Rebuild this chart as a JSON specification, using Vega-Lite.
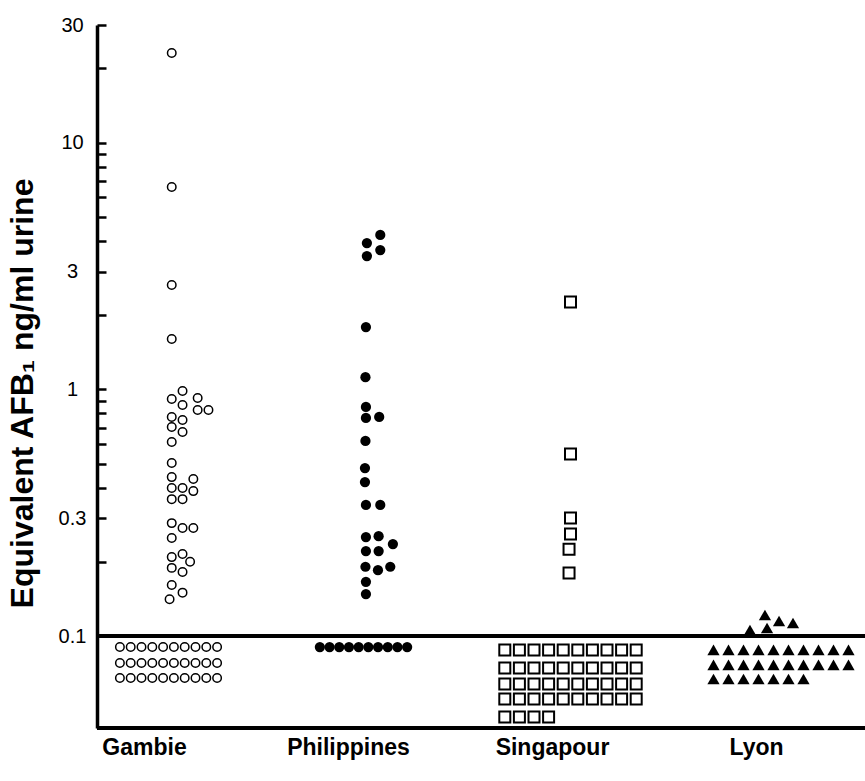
{
  "$schema": "https://vega.github.io/schema/vega-lite/v6.json",
  "width": 768,
  "height": 703,
  "autosize": {"type": "none"},
  "padding": {"left": 97, "top": 25, "right": 0, "bottom": 53},
  "background": "white",
  "config": {"view": {"stroke": null}, "font": "Liberation Sans"},
  "data": {"values": [
    {"group": "Gambie", "value": 23.1, "col": 0.3},
    {"group": "Gambie", "value": 6.61, "col": 0.3},
    {"group": "Gambie", "value": 2.65, "col": 0.3},
    {"group": "Gambie", "value": 1.6, "col": 0.3},
    {"group": "Gambie", "value": 0.985, "col": 1.3},
    {"group": "Gambie", "value": 0.914, "col": 0.3},
    {"group": "Gambie", "value": 0.923, "col": 2.7},
    {"group": "Gambie", "value": 0.864, "col": 1.3},
    {"group": "Gambie", "value": 0.825, "col": 2.7},
    {"group": "Gambie", "value": 0.825, "col": 3.7},
    {"group": "Gambie", "value": 0.773, "col": 0.3},
    {"group": "Gambie", "value": 0.751, "col": 1.3},
    {"group": "Gambie", "value": 0.704, "col": 0.3},
    {"group": "Gambie", "value": 0.672, "col": 1.3},
    {"group": "Gambie", "value": 0.612, "col": 0.3},
    {"group": "Gambie", "value": 0.503, "col": 0.3},
    {"group": "Gambie", "value": 0.441, "col": 0.3},
    {"group": "Gambie", "value": 0.433, "col": 2.3},
    {"group": "Gambie", "value": 0.398, "col": 0.3},
    {"group": "Gambie", "value": 0.398, "col": 1.3},
    {"group": "Gambie", "value": 0.387, "col": 2.3},
    {"group": "Gambie", "value": 0.359, "col": 0.3},
    {"group": "Gambie", "value": 0.359, "col": 1.3},
    {"group": "Gambie", "value": 0.287, "col": 0.3},
    {"group": "Gambie", "value": 0.274, "col": 1.3},
    {"group": "Gambie", "value": 0.274, "col": 2.3},
    {"group": "Gambie", "value": 0.25, "col": 0.3},
    {"group": "Gambie", "value": 0.209, "col": 0.3},
    {"group": "Gambie", "value": 0.215, "col": 1.3},
    {"group": "Gambie", "value": 0.2, "col": 2.0},
    {"group": "Gambie", "value": 0.189, "col": 0.3},
    {"group": "Gambie", "value": 0.182, "col": 1.3},
    {"group": "Gambie", "value": 0.161, "col": 0.3},
    {"group": "Gambie", "value": 0.15, "col": 1.3},
    {"group": "Gambie", "value": 0.141, "col": 0.1},
    {"group": "Gambie", "value": 0.0903, "col": -4.5},
    {"group": "Gambie", "value": 0.0903, "col": -3.5},
    {"group": "Gambie", "value": 0.0903, "col": -2.5},
    {"group": "Gambie", "value": 0.0903, "col": -1.5},
    {"group": "Gambie", "value": 0.0903, "col": -0.5},
    {"group": "Gambie", "value": 0.0903, "col": 0.5},
    {"group": "Gambie", "value": 0.0903, "col": 1.5},
    {"group": "Gambie", "value": 0.0903, "col": 2.5},
    {"group": "Gambie", "value": 0.0903, "col": 3.5},
    {"group": "Gambie", "value": 0.0903, "col": 4.5},
    {"group": "Gambie", "value": 0.0778, "col": -4.5},
    {"group": "Gambie", "value": 0.0778, "col": -3.5},
    {"group": "Gambie", "value": 0.0778, "col": -2.5},
    {"group": "Gambie", "value": 0.0778, "col": -1.5},
    {"group": "Gambie", "value": 0.0778, "col": -0.5},
    {"group": "Gambie", "value": 0.0778, "col": 0.5},
    {"group": "Gambie", "value": 0.0778, "col": 1.5},
    {"group": "Gambie", "value": 0.0778, "col": 2.5},
    {"group": "Gambie", "value": 0.0778, "col": 3.5},
    {"group": "Gambie", "value": 0.0778, "col": 4.5},
    {"group": "Gambie", "value": 0.0676, "col": -4.5},
    {"group": "Gambie", "value": 0.0676, "col": -3.5},
    {"group": "Gambie", "value": 0.0676, "col": -2.5},
    {"group": "Gambie", "value": 0.0676, "col": -1.5},
    {"group": "Gambie", "value": 0.0676, "col": -0.5},
    {"group": "Gambie", "value": 0.0676, "col": 0.5},
    {"group": "Gambie", "value": 0.0676, "col": 1.5},
    {"group": "Gambie", "value": 0.0676, "col": 2.5},
    {"group": "Gambie", "value": 0.0676, "col": 3.5},
    {"group": "Gambie", "value": 0.0676, "col": 4.5},
    {"group": "Philippines", "value": 4.23, "col": 1.73},
    {"group": "Philippines", "value": 3.92, "col": 0.35},
    {"group": "Philippines", "value": 3.67, "col": 1.73},
    {"group": "Philippines", "value": 3.47, "col": 0.35},
    {"group": "Philippines", "value": 1.79, "col": 0.25},
    {"group": "Philippines", "value": 1.12, "col": 0.2},
    {"group": "Philippines", "value": 0.849, "col": 0.25},
    {"group": "Philippines", "value": 0.766, "col": 0.25},
    {"group": "Philippines", "value": 0.773, "col": 1.62},
    {"group": "Philippines", "value": 0.618, "col": 0.2},
    {"group": "Philippines", "value": 0.48, "col": 0.15},
    {"group": "Philippines", "value": 0.421, "col": 0.15},
    {"group": "Philippines", "value": 0.34, "col": 0.25},
    {"group": "Philippines", "value": 0.34, "col": 1.73},
    {"group": "Philippines", "value": 0.252, "col": 0.25},
    {"group": "Philippines", "value": 0.254, "col": 1.56},
    {"group": "Philippines", "value": 0.221, "col": 0.25},
    {"group": "Philippines", "value": 0.221, "col": 1.56},
    {"group": "Philippines", "value": 0.236, "col": 3.03},
    {"group": "Philippines", "value": 0.191, "col": 0.2},
    {"group": "Philippines", "value": 0.185, "col": 1.49},
    {"group": "Philippines", "value": 0.191, "col": 2.76},
    {"group": "Philippines", "value": 0.166, "col": 0.25},
    {"group": "Philippines", "value": 0.148, "col": 0.25},
    {"group": "Philippines", "value": 0.0903, "col": -4.5},
    {"group": "Philippines", "value": 0.0903, "col": -3.5},
    {"group": "Philippines", "value": 0.0903, "col": -2.5},
    {"group": "Philippines", "value": 0.0903, "col": -1.5},
    {"group": "Philippines", "value": 0.0903, "col": -0.5},
    {"group": "Philippines", "value": 0.0903, "col": 0.5},
    {"group": "Philippines", "value": 0.0903, "col": 1.5},
    {"group": "Philippines", "value": 0.0903, "col": 2.5},
    {"group": "Philippines", "value": 0.0903, "col": 3.5},
    {"group": "Philippines", "value": 0.0903, "col": 4.5},
    {"group": "Singapour", "value": 2.26, "col": 0},
    {"group": "Singapour", "value": 0.547, "col": 0},
    {"group": "Singapour", "value": 0.301, "col": 0},
    {"group": "Singapour", "value": 0.259, "col": 0},
    {"group": "Singapour", "value": 0.225, "col": -0.1},
    {"group": "Singapour", "value": 0.18, "col": -0.1},
    {"group": "Singapour", "value": 0.0879, "col": -4.5},
    {"group": "Singapour", "value": 0.0879, "col": -3.5},
    {"group": "Singapour", "value": 0.0879, "col": -2.5},
    {"group": "Singapour", "value": 0.0879, "col": -1.5},
    {"group": "Singapour", "value": 0.0879, "col": -0.5},
    {"group": "Singapour", "value": 0.0879, "col": 0.5},
    {"group": "Singapour", "value": 0.0879, "col": 1.5},
    {"group": "Singapour", "value": 0.0879, "col": 2.5},
    {"group": "Singapour", "value": 0.0879, "col": 3.5},
    {"group": "Singapour", "value": 0.0879, "col": 4.5},
    {"group": "Singapour", "value": 0.0743, "col": -4.5},
    {"group": "Singapour", "value": 0.0743, "col": -3.5},
    {"group": "Singapour", "value": 0.0743, "col": -2.5},
    {"group": "Singapour", "value": 0.0743, "col": -1.5},
    {"group": "Singapour", "value": 0.0743, "col": -0.5},
    {"group": "Singapour", "value": 0.0743, "col": 0.5},
    {"group": "Singapour", "value": 0.0743, "col": 1.5},
    {"group": "Singapour", "value": 0.0743, "col": 2.5},
    {"group": "Singapour", "value": 0.0743, "col": 3.5},
    {"group": "Singapour", "value": 0.0743, "col": 4.5},
    {"group": "Singapour", "value": 0.0639, "col": -4.5},
    {"group": "Singapour", "value": 0.0639, "col": -3.5},
    {"group": "Singapour", "value": 0.0639, "col": -2.5},
    {"group": "Singapour", "value": 0.0639, "col": -1.5},
    {"group": "Singapour", "value": 0.0639, "col": -0.5},
    {"group": "Singapour", "value": 0.0639, "col": 0.5},
    {"group": "Singapour", "value": 0.0639, "col": 1.5},
    {"group": "Singapour", "value": 0.0639, "col": 2.5},
    {"group": "Singapour", "value": 0.0639, "col": 3.5},
    {"group": "Singapour", "value": 0.0639, "col": 4.5},
    {"group": "Singapour", "value": 0.0556, "col": -4.5},
    {"group": "Singapour", "value": 0.0556, "col": -3.5},
    {"group": "Singapour", "value": 0.0556, "col": -2.5},
    {"group": "Singapour", "value": 0.0556, "col": -1.5},
    {"group": "Singapour", "value": 0.0556, "col": -0.5},
    {"group": "Singapour", "value": 0.0556, "col": 0.5},
    {"group": "Singapour", "value": 0.0556, "col": 1.5},
    {"group": "Singapour", "value": 0.0556, "col": 2.5},
    {"group": "Singapour", "value": 0.0556, "col": 3.5},
    {"group": "Singapour", "value": 0.0556, "col": 4.5},
    {"group": "Singapour", "value": 0.047, "col": -4.5},
    {"group": "Singapour", "value": 0.047, "col": -3.5},
    {"group": "Singapour", "value": 0.047, "col": -2.5},
    {"group": "Singapour", "value": 0.047, "col": -1.5},
    {"group": "Lyon", "value": 0.1218, "col": -1.07},
    {"group": "Lyon", "value": 0.1151, "col": -0.13},
    {"group": "Lyon", "value": 0.113, "col": 0.8},
    {"group": "Lyon", "value": 0.1059, "col": -2.07},
    {"group": "Lyon", "value": 0.1078, "col": -0.93},
    {"group": "Lyon", "value": 0.0879, "col": -4.5},
    {"group": "Lyon", "value": 0.0879, "col": -3.5},
    {"group": "Lyon", "value": 0.0879, "col": -2.5},
    {"group": "Lyon", "value": 0.0879, "col": -1.5},
    {"group": "Lyon", "value": 0.0879, "col": -0.5},
    {"group": "Lyon", "value": 0.0879, "col": 0.5},
    {"group": "Lyon", "value": 0.0879, "col": 1.5},
    {"group": "Lyon", "value": 0.0879, "col": 2.5},
    {"group": "Lyon", "value": 0.0879, "col": 3.5},
    {"group": "Lyon", "value": 0.0879, "col": 4.5},
    {"group": "Lyon", "value": 0.0764, "col": -4.5},
    {"group": "Lyon", "value": 0.0764, "col": -3.5},
    {"group": "Lyon", "value": 0.0764, "col": -2.5},
    {"group": "Lyon", "value": 0.0764, "col": -1.5},
    {"group": "Lyon", "value": 0.0764, "col": -0.5},
    {"group": "Lyon", "value": 0.0764, "col": 0.5},
    {"group": "Lyon", "value": 0.0764, "col": 1.5},
    {"group": "Lyon", "value": 0.0764, "col": 2.5},
    {"group": "Lyon", "value": 0.0764, "col": 3.5},
    {"group": "Lyon", "value": 0.0764, "col": 4.5},
    {"group": "Lyon", "value": 0.067, "col": -4.5},
    {"group": "Lyon", "value": 0.067, "col": -3.5},
    {"group": "Lyon", "value": 0.067, "col": -2.5},
    {"group": "Lyon", "value": 0.067, "col": -1.5},
    {"group": "Lyon", "value": 0.067, "col": -0.5},
    {"group": "Lyon", "value": 0.067, "col": 0.5},
    {"group": "Lyon", "value": 0.067, "col": 1.5}
  ]},
  "layer": [
    {
      "encoding": {
        "x": {
          "field": "group", "type": "nominal",
          "sort": ["Gambie", "Philippines", "Singapour", "Lyon"],
          "scale": {"range": [-30.5, 785.5], "paddingInner": 0, "paddingOuter": 0},
          "axis": {
            "title": null, "domain": false, "ticks": false, "labelAngle": 0,
            "labelFontSize": 23, "labelFontWeight": "bold", "labelColor": "black",
            "labelFont": "Liberation Sans", "labelPadding": 8, "labelOffset": -24
          }
        },
        "y": {
          "field": "value", "type": "quantitative",
          "scale": {"type": "log", "domain": [0.0424, 30], "nice": false},
          "axis": {
            "title": "Equivalent AFB₁ ng/ml urine",
            "titleFontSize": 32, "titleFontWeight": "bold", "titleColor": "black",
            "titleFont": "Liberation Sans",
            "titleX": -75, "titleY": 368, "titleAngle": -90,
            "titleAlign": "center", "titleBaseline": "middle",
            "values": [0.1, 0.2, 0.3, 0.4, 0.5, 0.6, 0.7, 0.8, 0.9, 1, 2, 3, 4, 5, 6, 7, 8, 9, 10, 20, 30],
            "labelExpr": "indexof([0.1, 0.3, 1, 3, 10, 30], datum.value) >= 0 ? datum.label : ''",
            "format": "~g",
            "labelOverlap": false, "labelBound": false,
            "labelFontSize": 20, "labelColor": "black", "labelFont": "Liberation Sans",
            "labelAlign": "center", "labelBaseline": "middle",
            "tickSize": -9, "tickWidth": 2.5, "tickColor": "black",
            "labelPadding": 34,
            "domainWidth": 3.5, "domainColor": "black",
            "grid": false
          }
        }
      },
      "layer": [
        {
          "transform": [{"filter": "datum.group == 'Gambie'"}],
          "mark": {"type": "point", "shape": "circle", "filled": false, "stroke": "black", "strokeWidth": 1.5, "size": 72, "opacity": 1},
          "encoding": {"xOffset": {"field": "col", "type": "quantitative", "scale": {"domain": [-10, 10], "range": [-6, 210]}}}
        },
        {
          "transform": [{"filter": "datum.group == 'Philippines'"}],
          "mark": {"type": "point", "shape": "circle", "filled": true, "color": "black", "size": 105, "opacity": 1},
          "encoding": {"xOffset": {"field": "col", "type": "quantitative", "scale": {"domain": [-10, 10], "range": [-4, 190]}}}
        },
        {
          "transform": [{"filter": "datum.group == 'Singapour'"}],
          "mark": {"type": "point", "shape": "square", "filled": false, "stroke": "black", "strokeWidth": 2, "size": 121, "opacity": 1},
          "encoding": {"xOffset": {"field": "col", "type": "quantitative", "scale": {"domain": [-10, 10], "range": [-50, 242]}}}
        },
        {
          "transform": [{"filter": "datum.group == 'Lyon'"}],
          "mark": {"type": "point", "shape": "triangle-up", "filled": true, "color": "black", "size": 150, "opacity": 1},
          "encoding": {"xOffset": {"field": "col", "type": "quantitative", "scale": {"domain": [-10, 10], "range": [-47.5, 252.5]}}}
        }
      ],
      "resolve": {"scale": {"xOffset": "independent"}}
    },
    {
      "mark": {"type": "rule", "color": "black", "strokeWidth": 4},
      "encoding": {"y": {"datum": 0.1}}
    },
    {
      "mark": {"type": "rule", "color": "black", "strokeWidth": 4},
      "encoding": {"y": {"datum": 0.0424}}
    }
  ]
}
